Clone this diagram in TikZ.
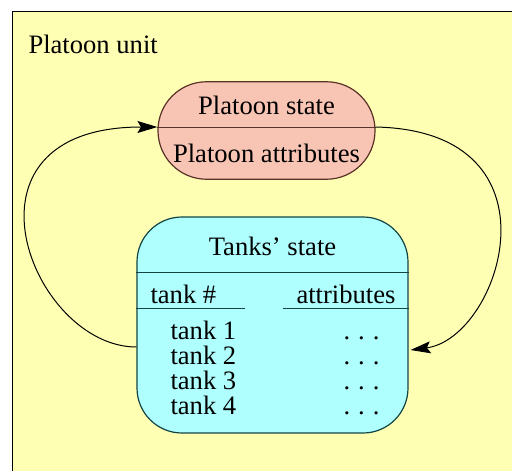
\documentclass[tikz,border=0pt]{standalone}
\usepackage{fontspec}
\setmainfont{Liberation Serif}
\usetikzlibrary{arrows.meta,calc}
\definecolor{unitfill}{RGB}{255,255,180}
\definecolor{pinkfill}{RGB}{248,196,180}
\definecolor{pinkline}{RGB}{90,50,40}
\definecolor{cyanfill}{RGB}{176,255,255}
\definecolor{cyanline}{RGB}{20,70,70}
\begin{document}
\begin{tikzpicture}[x=0.5pt,y=-0.5pt,line width=0.5pt,
  font=\fontsize{13.3}{16}\selectfont,
  txt/.style={inner sep=0pt,anchor=base},
  txtw/.style={inner sep=0pt,anchor=base west},
  platoonbox/.style={draw=pinkline,fill=pinkfill,line width=0.6pt,minimum width=108.5pt,minimum height=48.75pt,rounded corners=24.3pt,inner sep=0pt},
  tanksbox/.style={draw=cyanline,fill=cyanfill,line width=0.6pt,minimum width=135.5pt,minimum height=108pt,rounded corners=22.5pt,inner sep=0pt},
  conn/.style={line width=0.5pt,-{Stealth[length=10pt,width=6pt,inset=1.8pt]}}]
\useasboundingbox (0,0) rectangle (512,471);
\fill[unitfill] (12,11) rectangle (512,471);
\draw (12,471) -- (12,11) -- (512,11);
\node[txtw] (unit) at (28,53) {Platoon unit};
% platoon state
\node[platoonbox] (platoon) at (266.5,130.5) {};
\draw[pinkline] ([yshift=1.75pt]platoon.west) -- ([yshift=1.75pt]platoon.east);
\node[txt] (pstate) at (266.5,114) {Platoon state};
\node[txt] (pattr) at (266.5,162.7) {Platoon attributes};
% tanks state
\node[tanksbox] (tanks) at (272.5,325) {};
\draw[cyanline] ([yshift=26.5pt]tanks.west) -- ([yshift=26.5pt]tanks.east);
\draw[cyanline] ([yshift=8.5pt]tanks.west) -- +(109,0);
\draw[cyanline] ([yshift=8.5pt]tanks.east) -- +(-126,0);
\node[txt] (tstate) at (272.5,255) {Tanks’ state};
\node[txtw] (thash) at (150,303) {tank \#};
\node[txtw] (tattr) at (296,303) {attributes};
\foreach \i/\y in {1/339,2/364,3/389,4/414}{
  \node[txtw] (tank\i) at (170,\y) {tank \i};
  \node[txtw] (dots\i) at (343,\y) {.\hspace{0.3em}.\hspace{0.3em}.};
}
% connectors
\coordinate (a1) at ([yshift=-11pt]tanks.west);
\coordinate (a2) at ([yshift=1.75pt]platoon.west);
\draw[conn] (a1) .. controls +(-105,0) and +(-212,0) .. (a2);
\coordinate (b1) at ([yshift=1.75pt]platoon.east);
\coordinate (b2) at ([xshift=1pt,yshift=-12.5pt]tanks.east);
\draw[conn] (b1) .. controls +(192,4) and +(90,-12) .. (b2);
\end{tikzpicture}
\end{document}
